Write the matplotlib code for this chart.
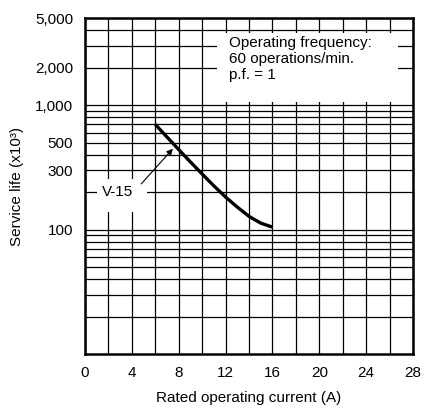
import matplotlib
matplotlib.use("Agg")
import matplotlib.pyplot as plt
from matplotlib.patches import Rectangle

plt.rcParams['font.family'] = ['Liberation Sans', 'DejaVu Sans']

# V-15 curve
current = [6, 7, 8, 9, 10, 11, 12, 13, 14, 15, 16]
life = [700, 555, 440, 350, 280, 225, 183, 152, 128, 113, 105]

x_major = [0, 4, 8, 12, 16, 20, 24, 28]
x_minor = [2, 6, 10, 14, 18, 22, 26]
y_major = [100, 300, 500, 1000, 2000, 5000]
y_labels = ["100", "300", "500", "1,000", "2,000", "5,000"]
y_minor = [20, 30, 40, 50, 60, 70, 80, 90, 200, 400, 600, 700, 800, 900, 3000, 4000]

fig = plt.figure(figsize=(4.25, 4.12), dpi=100)
ax = fig.add_axes([0.2, 0.14, 0.772, 0.816])

ax.set_yscale('log')
ax.set_xlim(0, 28)
ax.set_ylim(10, 5000)

ax.set_xticks(x_major)
ax.set_xticks(x_minor, minor=True)
ax.set_yticks(y_major)
ax.set_yticklabels(y_labels)
ax.set_yticks(y_minor, minor=True)
ax.yaxis.set_minor_formatter(plt.NullFormatter())
ax.tick_params(which='both', length=0, labelsize=11, colors='black')
ax.tick_params(axis='x', pad=8.5)
ax.tick_params(axis='y', pad=8.5)

ax.set_axisbelow(True)
ax.grid(which='both', color='black', linewidth=0.9)

for s in ax.spines.values():
    s.set_linewidth(1.8)

# white boxes behind the labels
ax.add_patch(Rectangle((11.3, 1060), 15.4, 2740, facecolor='white', edgecolor='none', zorder=1))
ax.add_patch(Rectangle((1.0, 139), 4.3, 115, facecolor='white', edgecolor='none', zorder=1))

ax.plot(current, life, color='black', linewidth=2.4, zorder=3, solid_capstyle='butt')

ax.text(12.3, 3600, "Operating frequency:\n60 operations/min.\np.f. = 1",
        fontsize=11, va='top', ha='left', linespacing=1.2, zorder=4)

ax.annotate("V-15", xy=(7.5, 447), xytext=(2.8, 200), fontsize=11,
            ha='center', va='center', zorder=4,
            arrowprops=dict(arrowstyle='-|>', color='black', lw=0.8,
                            mutation_scale=9, shrinkA=0, shrinkB=0,
                            relpos=(1.25, 1.1)))

ax.set_xlabel("Rated operating current (A)", fontsize=11, labelpad=8)
ax.set_ylabel("Service life (x10³)", fontsize=11, labelpad=8)

fig.savefig("out.png", dpi=100)
